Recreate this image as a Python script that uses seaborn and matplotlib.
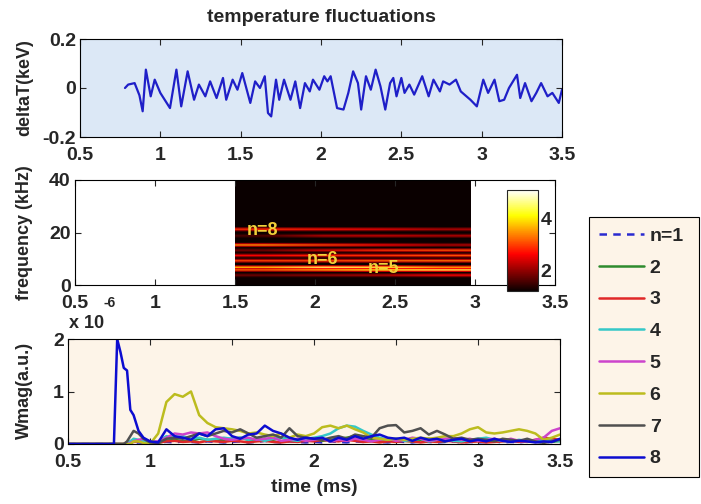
import numpy as np
import pandas as pd
import matplotlib
matplotlib.use('Agg')
import matplotlib.pyplot as plt
import seaborn as sns

# ---- panel 1: temperature fluctuation trace (keV) ----
t_dT = [0.78, 0.80, 0.84, 0.87, 0.89, 0.91, 0.94, 0.965, 1.00, 1.06,
        1.10, 1.13, 1.17, 1.21, 1.24, 1.28, 1.31, 1.35, 1.39, 1.41,
        1.45, 1.48, 1.51, 1.56, 1.59, 1.62, 1.65, 1.67, 1.69, 1.72,
        1.74, 1.77, 1.81, 1.84, 1.87, 1.90, 1.93, 1.95, 1.99, 2.02,
        2.04, 2.06, 2.10, 2.14, 2.17, 2.20, 2.23, 2.25, 2.28, 2.31,
        2.34, 2.37, 2.40, 2.43, 2.45, 2.47, 2.50, 2.52, 2.55, 2.58,
        2.63, 2.67, 2.70, 2.74, 2.76, 2.80, 2.84, 2.87, 2.93, 2.97,
        3.01, 3.04, 3.08, 3.11, 3.14, 3.17, 3.22, 3.24, 3.27, 3.31,
        3.34, 3.37, 3.41, 3.44, 3.48, 3.50]
dT = [0.0, 0.014, 0.02, -0.03, -0.095, 0.075, -0.034, 0.034, -0.02, -0.082,
      0.075, -0.075, 0.068, -0.048, 0.014, -0.034, 0.027, -0.041, 0.041, -0.048,
      0.034, -0.007, 0.061, -0.061, 0.027, 0.0, 0.048, -0.102, -0.116, 0.034,
      -0.048, 0.034, -0.048, 0.027, -0.082, 0.02, -0.014, 0.034, -0.007, 0.048,
      0.027, 0.048, -0.082, -0.088, -0.02, 0.068, 0.02, -0.088, 0.048, -0.007,
      0.075, 0.007, -0.088, 0.02, 0.041, -0.034, 0.041, -0.02, 0.014, -0.027,
      0.048, -0.034, 0.034, -0.014, 0.027, 0.014, 0.034, -0.014, -0.048, -0.075,
      0.034, -0.02, 0.034, -0.054, -0.048, 0.0, 0.054, -0.041, 0.02, -0.054,
      -0.02, 0.02, -0.034, -0.02, -0.061, -0.007]

# ---- panel 2: spectrogram modes (kHz) and amplitude at 4 time columns ----
spec_t0, spec_t1 = 1.5, 2.97
mode_freq = [3.9, 5.6, 6.9, 9.1, 11.1, 13.3, 15.0, 18.9, 21.3]
mode_amp = [[1.8, 2.0, 2.2, 2.6],
            [3.2, 3.6, 4.2, 4.4],
            [3.8, 4.5, 4.3, 3.6],
            [3.0, 3.0, 3.2, 3.3],
            [2.6, 2.8, 2.9, 3.1],
            [1.8, 2.4, 2.9, 3.1],
            [3.5, 3.0, 2.6, 2.2],
            [1.6, 2.2, 2.3, 2.2],
            [2.9, 2.7, 2.5, 2.2]]
spec_floor = 1.2
mode_text = ['n=8', 'n=6', 'n=5']
mode_text_x = [1.67, 2.05, 2.43]
mode_text_y = [20.8, 9.9, 6.4]

# ---- panel 3: Wmag (x 10^-6) for n = 1..8 ----
t_w = [0.50, 0.78, 0.80, 0.82, 0.84, 0.86, 0.88, 0.90, 0.93, 0.96,
       1.00, 1.05, 1.10, 1.15, 1.20, 1.25, 1.30, 1.35, 1.40, 1.45,
       1.50, 1.55, 1.60, 1.65, 1.70, 1.75, 1.80, 1.85, 1.90, 1.95,
       2.00, 2.05, 2.10, 2.15, 2.20, 2.25, 2.30, 2.35, 2.40, 2.45,
       2.50, 2.55, 2.60, 2.65, 2.70, 2.75, 2.80, 2.85, 2.90, 2.95,
       3.00, 3.05, 3.10, 3.15, 3.20, 3.25, 3.30, 3.35, 3.40, 3.45,
       3.50]
w1 = [0, 0, 0, 0, 0, 0, 0.01, 0.02, 0.03, 0.02,
      0.02, 0.03, 0.04, 0.03, 0.05, 0.04, 0.03, 0.05, 0.04, 0.03,
      0.04, 0.05, 0.03, 0.04, 0.06, 0.04, 0.03, 0.05, 0.04, 0.03,
      0.04, 0.03, 0.05, 0.04, 0.03, 0.05, 0.04, 0.06, 0.04, 0.03,
      0.05, 0.04, 0.03, 0.05, 0.04, 0.03, 0.04, 0.05, 0.03, 0.04,
      0.03, 0.04, 0.05, 0.03, 0.04, 0.03, 0.05, 0.04, 0.03, 0.04,
      0.05]
w2 = [0, 0, 0, 0, 0, 0.02, 0.05, 0.08, 0.06, 0.04,
      0.03, 0.02, 0.06, 0.08, 0.05, 0.06, 0.10, 0.08, 0.06, 0.08,
      0.10, 0.12, 0.08, 0.06, 0.10, 0.08, 0.12, 0.10, 0.06, 0.08,
      0.10, 0.06, 0.08, 0.10, 0.12, 0.15, 0.10, 0.08, 0.06, 0.10,
      0.08, 0.06, 0.05, 0.08, 0.10, 0.06, 0.05, 0.08, 0.06, 0.05,
      0.06, 0.04, 0.05, 0.06, 0.08, 0.05, 0.04, 0.06, 0.05, 0.04,
      0.06]
w3 = [0, 0, 0, 0, 0, 0, 0.02, 0.04, 0.05, 0.03,
      0.02, 0.03, 0.05, 0.06, 0.04, 0.05, 0.03, 0.06, 0.05, 0.04,
      0.06, 0.05, 0.03, 0.05, 0.06, 0.04, 0.03, 0.05, 0.04, 0.06,
      0.05, 0.08, 0.06, 0.05, 0.08, 0.06, 0.04, 0.05, 0.03, 0.05,
      0.04, 0.06, 0.05, 0.03, 0.05, 0.04, 0.06, 0.05, 0.03, 0.04,
      0.05, 0.03, 0.04, 0.05, 0.06, 0.04, 0.05, 0.08, 0.12, 0.10,
      0.08]
w4 = [0, 0, 0, 0, 0, 0.02, 0.05, 0.10, 0.08, 0.05,
      0.03, 0.05, 0.15, 0.12, 0.15, 0.10, 0.12, 0.08, 0.10, 0.12,
      0.10, 0.12, 0.08, 0.10, 0.06, 0.10, 0.12, 0.08, 0.06, 0.10,
      0.12, 0.15, 0.20, 0.30, 0.35, 0.33, 0.25, 0.18, 0.12, 0.08,
      0.10, 0.06, 0.08, 0.10, 0.05, 0.08, 0.10, 0.06, 0.05, 0.08,
      0.10, 0.12, 0.08, 0.06, 0.05, 0.08, 0.06, 0.05, 0.08, 0.06,
      0.05]
w5 = [0, 0, 0, 0, 0, 0, 0.02, 0.05, 0.08, 0.10,
      0.05, 0.05, 0.12, 0.20, 0.18, 0.22, 0.20, 0.22, 0.15, 0.10,
      0.08, 0.10, 0.12, 0.08, 0.10, 0.12, 0.06, 0.08, 0.10, 0.06,
      0.08, 0.10, 0.05, 0.08, 0.06, 0.10, 0.08, 0.05, 0.08, 0.10,
      0.06, 0.08, 0.12, 0.10, 0.06, 0.08, 0.10, 0.12, 0.08, 0.10,
      0.06, 0.08, 0.10, 0.06, 0.10, 0.06, 0.05, 0.08, 0.12, 0.25,
      0.30]
w6 = [0, 0, 0, 0, 0, 0, 0, 0.05, 0.05, 0.02,
      0.0, 0.20, 0.80, 0.95, 0.90, 1.00, 0.55, 0.40, 0.32, 0.30,
      0.28, 0.25, 0.20, 0.22, 0.18, 0.15, 0.20, 0.12, 0.18, 0.15,
      0.20, 0.32, 0.35, 0.30, 0.35, 0.28, 0.22, 0.12, 0.10, 0.08,
      0.10, 0.08, 0.10, 0.12, 0.10, 0.12, 0.15, 0.15, 0.20, 0.28,
      0.32, 0.22, 0.20, 0.22, 0.25, 0.28, 0.25, 0.20, 0.08, 0.12,
      0.18]
w7 = [0, 0, 0, 0, 0, 0.05, 0.15, 0.25, 0.20, 0.10,
      0.03, 0.02, 0.10, 0.12, 0.10, 0.15, 0.20, 0.15, 0.20, 0.25,
      0.22, 0.28, 0.20, 0.12, 0.15, 0.18, 0.12, 0.30, 0.15, 0.12,
      0.10, 0.08, 0.12, 0.15, 0.10, 0.18, 0.15, 0.12, 0.30, 0.35,
      0.36, 0.22, 0.25, 0.30, 0.18, 0.25, 0.18, 0.10, 0.12, 0.08,
      0.10, 0.08, 0.05, 0.10, 0.08, 0.06, 0.10, 0.05, 0.02, 0.05,
      0.08]
w8 = [0, 0, 2.00, 1.75, 1.45, 1.40, 0.65, 0.55, 0.25, 0.12,
      0.05, 0.03, 0.28, 0.15, 0.12, 0.08, 0.20, 0.15, 0.28, 0.30,
      0.15, 0.10, 0.18, 0.20, 0.35, 0.25, 0.20, 0.12, 0.08, 0.12,
      0.10, 0.12, 0.05, 0.12, 0.08, 0.15, 0.10, 0.15, 0.18, 0.12,
      0.10, 0.12, 0.06, 0.12, 0.08, 0.10, 0.05, 0.08, 0.10, 0.05,
      0.08, 0.05, 0.10, 0.06, 0.04, 0.06, 0.05, 0.03, 0.05, 0.04,
      0.10]
w_series = [w1, w2, w3, w4, w5, w6, w7, w8]
w_labels = ['n=1', '2', '3', '4', '5', '6', '7', '8']
w_colors = ['#2a2ad0', '#2e8b2e', '#e02828', '#35c8c8', '#cc44cc',
            '#bcbc1e', '#505050', '#0c0cd0']

sns.set_style('ticks')
plt.rcParams['font.family'] = ['Liberation Sans', 'DejaVu Sans']
plt.rcParams['font.weight'] = 'bold'
plt.rcParams['axes.labelweight'] = 'bold'
plt.rcParams['axes.titleweight'] = 'bold'
plt.rcParams['lines.dashed_pattern'] = [3.0, 2.5]

W, H = 701, 504
fs = 14      # ticks, legend, title
fl = 13      # y labels


def box(l, t, r, b):
    return [l / W, 1 - b / H, (r - l) / W, (b - t) / H]


fig = plt.figure(figsize=(W / 100, H / 100), dpi=100)
ax1 = fig.add_axes(box(80, 39, 562, 137))
ax2 = fig.add_axes(box(75, 180, 555, 285))
ax3 = fig.add_axes(box(68, 339, 560, 444))
cax = fig.add_axes(box(507, 190, 538, 291))

for ax in (ax1, ax2, ax3):
    ax.tick_params(direction='in', top=True, right=True, length=4,
                   width=0.8, labelsize=fs, pad=3)
    ax.tick_params(axis='x', pad=7)
    for s in ax.spines.values():
        s.set_color('black')
        s.set_linewidth(0.8)
    ax.set_xlim(0.5, 3.5)
    ax.set_xticks([0.5, 1, 1.5, 2, 2.5, 3, 3.5])
    ax.set_xticklabels(['0.5', '1', '1.5', '2', '2.5', '3', '3.5'])

# panel 1
ax1.set_facecolor('#dce8f6')
sns.lineplot(x=t_dT, y=dT, ax=ax1, color='#1f1fc8', lw=1.6)
ax1.set_ylim(-0.2, 0.2)
ax1.set_yticks([-0.2, 0, 0.2])
ax1.set_yticklabels(['-0.2', '0', '0.2'])
ax1.set_ylabel('deltaT(keV)', fontsize=fl)
ax1.yaxis.set_label_coords(33 / W, 1 - 88 / H, transform=fig.transFigure)
ax1.set_title('temperature fluctuations', fontsize=fs, pad=12)

# panel 2: each mode lights its 0.5 kHz row, with dimmer shoulders above/below
n_bins = 80
shoulder = 0.45
spec = np.full((n_bins, len(mode_amp[0])), spec_floor)
for f, a in zip(mode_freq, mode_amp):
    i = int(f / 0.5)
    a = np.array(a)
    side = spec_floor + shoulder * (a - spec_floor)
    spec[i] = np.maximum(spec[i], a)
    spec[i - 1] = np.maximum(spec[i - 1], side)
    spec[i + 1] = np.maximum(spec[i + 1], side)
ax2.set_facecolor('white')
im = ax2.imshow(spec, origin='lower', aspect='auto', cmap='hot',
                extent=(spec_t0, spec_t1, 0, 40), vmin=1.2, vmax=5.1,
                interpolation='bilinear')
ax2.set_xlim(0.5, 3.5)
ax2.set_ylim(0, 40)
ax2.set_yticks([0, 20, 40])
ax2.set_yticklabels(['0', '20', '40'])
ax2.set_ylabel('frequency (kHz)', fontsize=fl)
ax2.yaxis.set_label_coords(33 / W, 1 - 233 / H, transform=fig.transFigure)
for s, x, y in zip(mode_text, mode_text_x, mode_text_y):
    ax2.text(x, y, s, color='#f2d13a', fontsize=fs - 1, ha='center', va='center')

cb = fig.colorbar(im, cax=cax, ticks=[2, 4])
cb.ax.tick_params(direction='in', length=3, labelsize=fs, pad=2)
cb.outline.set_linewidth(0.8)

# panel 3
ax3.set_facecolor('#fdf4e8')
for w, lab, c in zip(w_series, w_labels, w_colors):
    ls = '--' if lab == 'n=1' else '-'
    sns.lineplot(x=t_w, y=w, ax=ax3, color=c, lw=1.8, ls=ls, label=lab)
ax3.set_ylim(0, 2)
ax3.set_yticks([0, 1, 2])
ax3.set_yticklabels(['0', '1', '2'])
ax3.set_ylabel('Wmag(a.u.)', fontsize=fl)
ax3.yaxis.set_label_coords(33 / W, 1 - 390 / H, transform=fig.transFigure)
ax3.set_xlabel('time (ms)', fontsize=fs, labelpad=6)
fig.text(87 / W, 1 - 323 / H, 'x 10', fontsize=fs - 1, ha='center', va='center')
fig.text(110 / W, 1 - 303 / H, '-6', fontsize=fs - 4, ha='center', va='center')

leg = ax3.legend(loc='upper left', bbox_to_anchor=box(589, 217, 699, 479),
                 bbox_transform=fig.transFigure, mode='expand',
                 borderaxespad=0, handlelength=2.3, handletextpad=0.3,
                 labelspacing=0.73, borderpad=0.52, fontsize=fs, frameon=True,
                 fancybox=False, edgecolor='black', facecolor='#fdf4e8',
                 framealpha=1)
leg.get_frame().set_linewidth(0.8)

fig.savefig('out.png', dpi=100, facecolor='white')
